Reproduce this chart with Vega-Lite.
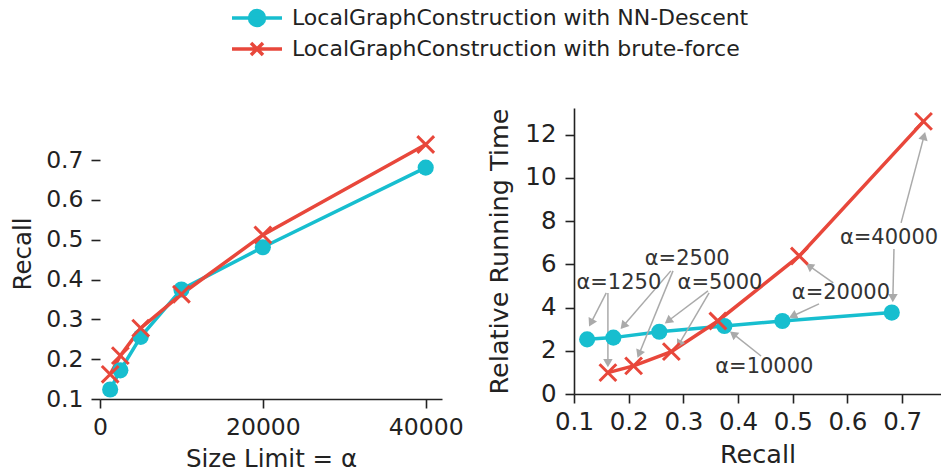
{
  "$schema": "https://vega.github.io/schema/vega-lite/v6.json",
  "padding": {"left": 10, "top": 7, "right": 0, "bottom": 0},
  "background": "white",
  "config": {
    "font": "DejaVu Sans",
    "view": {"stroke": null},
    "axis": {"grid": false, "domainColor": "#222", "domainWidth": 1.6, "tickColor": "#222", "tickWidth": 1.6, "tickSize": 9,
      "labelFont": "DejaVu Sans", "labelFontSize": 23.5, "labelColor": "#222", "labelPadding": 7, "labelOverlap": false, "labelFlush": false,
      "titleFont": "DejaVu Sans", "titleFontSize": 24.5, "titleFontWeight": "normal", "titleColor": "#222", "titlePadding": 8},
    "concat": {"spacing": 23}
  },
  "datasets": {
    "main": [
      {"series": "LocalGraphConstruction with NN-Descent", "alpha": 1250, "recall": 0.124, "time": 2.53},
      {"series": "LocalGraphConstruction with NN-Descent", "alpha": 2500, "recall": 0.172, "time": 2.61},
      {"series": "LocalGraphConstruction with NN-Descent", "alpha": 5000, "recall": 0.256, "time": 2.88},
      {"series": "LocalGraphConstruction with NN-Descent", "alpha": 10000, "recall": 0.375, "time": 3.15},
      {"series": "LocalGraphConstruction with NN-Descent", "alpha": 20000, "recall": 0.481, "time": 3.38},
      {"series": "LocalGraphConstruction with NN-Descent", "alpha": 40000, "recall": 0.681, "time": 3.77},
      {"series": "LocalGraphConstruction with brute-force", "alpha": 1250, "recall": 0.162, "time": 0.99},
      {"series": "LocalGraphConstruction with brute-force", "alpha": 2500, "recall": 0.209, "time": 1.3},
      {"series": "LocalGraphConstruction with brute-force", "alpha": 5000, "recall": 0.278, "time": 1.96},
      {"series": "LocalGraphConstruction with brute-force", "alpha": 10000, "recall": 0.363, "time": 3.38},
      {"series": "LocalGraphConstruction with brute-force", "alpha": 20000, "recall": 0.512, "time": 6.39},
      {"series": "LocalGraphConstruction with brute-force", "alpha": 40000, "recall": 0.739, "time": 12.62}
    ],
    "notes": [
      {"label": "α=1250", "x": 0.182, "y": 5.14},
      {"label": "α=2500", "x": 0.307, "y": 6.25},
      {"label": "α=5000", "x": 0.367, "y": 5.14},
      {"label": "α=10000", "x": 0.448, "y": 1.25},
      {"label": "α=20000", "x": 0.588, "y": 4.68},
      {"label": "α=40000", "x": 0.676, "y": 7.22}
    ],
    "arrows": [
      {"x": 0.159, "y": 4.68, "x2": 0.131, "y2": 3.29},
      {"x": 0.162, "y": 4.68, "x2": 0.162, "y2": 1.43},
      {"x": 0.277, "y": 5.7, "x2": 0.19, "y2": 3.15},
      {"x": 0.281, "y": 5.7, "x2": 0.219, "y2": 1.85},
      {"x": 0.345, "y": 4.77, "x2": 0.272, "y2": 3.38},
      {"x": 0.347, "y": 4.68, "x2": 0.292, "y2": 2.31},
      {"x": 0.442, "y": 1.76, "x2": 0.391, "y2": 2.78},
      {"x": 0.574, "y": 5.14, "x2": 0.53, "y2": 5.93},
      {"x": 0.548, "y": 4.17, "x2": 0.5, "y2": 3.61},
      {"x": 0.698, "y": 7.92, "x2": 0.74, "y2": 11.94},
      {"x": 0.685, "y": 6.71, "x2": 0.683, "y2": 4.44}
    ]
  },
  "resolve": {"scale": {"color": "shared"}, "legend": {"color": "shared"}},
  "hconcat": [
    {
      "width": 342,
      "height": 291,
      "data": {"name": "main"},
      "encoding": {
        "x": {"field": "alpha", "type": "quantitative", "scale": {"domain": [0, 42000], "nice": false, "zero": false},
          "axis": {"values": [0, 20000, 40000], "format": "d", "title": "Size Limit = α", "titlePadding": 9}},
        "y": {"field": "recall", "type": "quantitative", "scale": {"domain": [0.1, 0.8306], "nice": false, "zero": false},
          "axis": {"values": [0.1, 0.2, 0.3, 0.4, 0.5, 0.6, 0.7], "format": ".1f", "domain": false, "title": "Recall", "titlePadding": 10, "labelPadding": 8}}
      },
      "layer": [
        {"data": {"values": [{}]}, "mark": {"type": "rule", "color": "#222", "strokeWidth": 1.6},
          "encoding": {"x": {"datum": 0, "type": "quantitative"}, "y": {"datum": 0.1, "type": "quantitative"}, "y2": {"datum": 0.77}}},
        {"mark": {"type": "line", "strokeWidth": 3.5},
          "encoding": {"color": {"field": "series", "type": "nominal"}}},
        {"transform": [{"filter": "datum.series == 'LocalGraphConstruction with NN-Descent'"}],
          "mark": {"type": "point", "filled": true, "size": 260, "opacity": 1},
          "encoding": {"color": {"field": "series", "type": "nominal"}}},
        {"transform": [{"filter": "datum.series == 'LocalGraphConstruction with brute-force'"}],
          "mark": {"type": "point", "filled": false, "shape": "M-1,-1L1,1M-1,1L1,-1", "size": 280, "strokeWidth": 3, "opacity": 1},
          "encoding": {"color": {"field": "series", "type": "nominal"}}}
      ]
    },
    {
      "width": 367,
      "height": 286,
      "layer": [
        {
          "data": {"name": "main"},
          "mark": {"type": "line", "strokeWidth": 3.5},
          "encoding": {
            "x": {"field": "recall", "type": "quantitative", "scale": {"domain": [0.1, 0.771], "nice": false, "zero": false},
              "axis": {"values": [0.1, 0.2, 0.3, 0.4, 0.5, 0.6, 0.7], "format": ".1f", "title": "Recall", "labelFontSize": 24.5, "titleFontSize": 25.5, "titlePadding": 9}},
            "y": {"field": "time", "type": "quantitative", "scale": {"domain": [0, 13.24], "nice": false},
              "axis": {"values": [0, 2, 4, 6, 8, 10, 12], "title": "Relative Running Time", "labelFontSize": 24.5, "titleFontSize": 25.5, "titlePadding": 12, "labelPadding": 9}},
            "color": {"field": "series", "type": "nominal",
              "scale": {"domain": ["LocalGraphConstruction with NN-Descent", "LocalGraphConstruction with brute-force"], "range": ["#17becf", "#e8473b"]},
              "legend": {"orient": "none", "legendX": 146, "legendY": -101, "title": null, "direction": "vertical",
                "labelFont": "DejaVu Sans", "labelFontSize": 22, "labelColor": "#222", "labelOffset": 24, "labelLimit": 0,
                "symbolSize": 100, "rowPadding": 3, "symbolStrokeWidth": 3.5,
                "encode": {"symbols": {"update": {
                  "shape": {"signal": "datum.value == 'LocalGraphConstruction with NN-Descent' ? 'M-5,0L5,0M-1.5,0A1.5,1.5,0,1,0,1.5,0A1.5,1.5,0,1,0,-1.5,0' : 'M-5,0L5,0M-1.2,-1.2L1.2,1.2M-1.2,1.2L1.2,-1.2'"},
                  "fill": {"signal": "datum.value == 'LocalGraphConstruction with NN-Descent' ? '#17becf' : '#e8473b'"},
                  "stroke": {"signal": "datum.value == 'LocalGraphConstruction with NN-Descent' ? '#17becf' : '#e8473b'"},
                  "strokeWidth": {"value": 3.5},
                  "opacity": {"value": 1}
                }}}}}
          }
        },
        {
          "data": {"name": "arrows"},
          "mark": {"type": "rule", "color": "#aaaaaa", "strokeWidth": 1.5},
          "encoding": {"x": {"field": "x", "type": "quantitative"}, "y": {"field": "y", "type": "quantitative"}, "x2": {"field": "x2"}, "y2": {"field": "y2"}}
        },
        {
          "data": {"name": "arrows"},
          "transform": [{"calculate": "atan2((datum.x2 - datum.x) * 546.7, (datum.y2 - datum.y) * 21.6) * 180 / PI", "as": "ang"}],
          "mark": {"type": "point", "shape": "triangle-up", "filled": true, "color": "#aaaaaa", "size": 90, "opacity": 1},
          "encoding": {"x": {"field": "x2", "type": "quantitative"}, "y": {"field": "y2", "type": "quantitative"}, "angle": {"field": "ang", "type": "quantitative", "scale": null}}
        },
        {
          "data": {"name": "main"},
          "transform": [{"filter": "datum.series == 'LocalGraphConstruction with NN-Descent'"}],
          "mark": {"type": "point", "filled": true, "size": 260, "opacity": 1},
          "encoding": {"x": {"field": "recall", "type": "quantitative"}, "y": {"field": "time", "type": "quantitative"}, "color": {"field": "series", "type": "nominal"}}
        },
        {
          "data": {"name": "main"},
          "transform": [{"filter": "datum.series == 'LocalGraphConstruction with brute-force'"}],
          "mark": {"type": "point", "filled": false, "shape": "M-1,-1L1,1M-1,1L1,-1", "size": 280, "strokeWidth": 3, "opacity": 1},
          "encoding": {"x": {"field": "recall", "type": "quantitative"}, "y": {"field": "time", "type": "quantitative"}, "color": {"field": "series", "type": "nominal"}}
        },
        {
          "data": {"name": "notes"},
          "mark": {"type": "text", "font": "DejaVu Sans", "fontSize": 21, "color": "#333", "align": "center", "baseline": "middle"},
          "encoding": {"x": {"field": "x", "type": "quantitative"}, "y": {"field": "y", "type": "quantitative"}, "text": {"field": "label"}}
        }
      ]
    }
  ]
}
